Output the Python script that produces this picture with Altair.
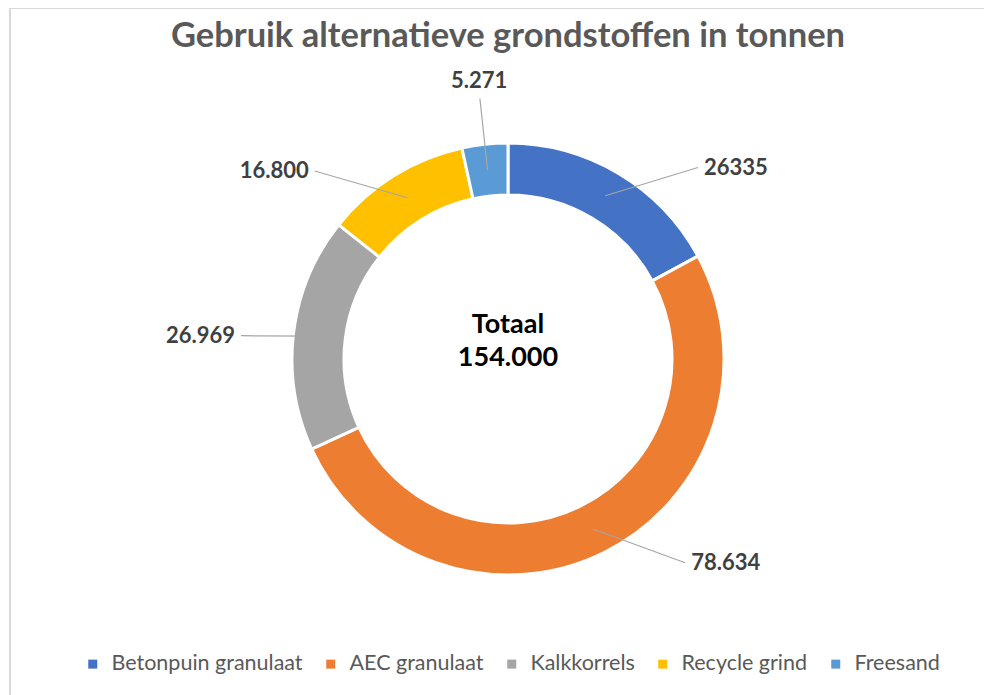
import altair as alt
import pandas as pd

NAMES = ["Betonpuin granulaat", "AEC granulaat", "Kalkkorrels", "Recycle grind", "Freesand"]
VALUES = [26335, 78634, 26969, 16800, 5271]
LABELS = ["26335", "78.634", "26.969", "16.800", "5.271"]
COLORS = ["#4472C4", "#ED7D31", "#A5A5A5", "#FFC000", "#5B9BD5"]
CENTER_TEXT = ["Totaal", "154.000"]
TITLE = "Gebruik alternatieve grondstoffen in tonnen"

df = pd.DataFrame({"name": NAMES, "value": VALUES, "label": LABELS, "order": list(range(len(NAMES)))})

XS = alt.Scale(domain=[-300, 300])
YS = alt.Scale(domain=[-300, 300])

base = alt.Chart(df)

arcs = base.mark_arc(innerRadius=164, outerRadius=216, stroke="white", strokeWidth=3).encode(
    theta=alt.Theta("value:Q", stack=True),
    color=alt.Color(
        "name:N",
        scale=alt.Scale(domain=NAMES, range=COLORS),
        sort=NAMES,
        legend=alt.Legend(
            title=None, orient="none", direction="horizontal",
            legendX=-126, legendY=594,
            symbolType="square", symbolSize=81, symbolStrokeWidth=0,
            labelFontSize=21.5, labelColor="#595959", labelFont="Lato",
            labelOffset=8, columnPadding=17, labelLimit=400,
        ),
    ),
    order=alt.Order("order:Q"),
)

# label placement: labels pushed sideways (like the spreadsheet's outside-end layout)
geo = base.transform_window(
    cum="sum(value)", sort=[alt.SortField("order")], frame=[None, 0]
).transform_joinaggregate(
    total="sum(value)"
).transform_calculate(
    mid="(datum.cum - datum.value / 2) / datum.total * 2 * PI"
).transform_calculate(
    s="sin(datum.mid)", c="cos(datum.mid)"
).transform_calculate(
    side="abs(datum.s) < 0.25 ? 'top' : (datum.s > 0 ? 'right' : 'left')"
).transform_calculate(
    ps="datum.side == 'top' ? datum.s : (datum.s < 0 ? -1 : 1) * sqrt(abs(datum.s))",
    pc="datum.side == 'top' ? datum.c : (datum.c < 0 ? -1 : 1) * sqrt(1 - abs(datum.s))",
).transform_calculate(
    tx="(datum.side == 'top' ? 268 : 274) * datum.ps",
    ty="(datum.side == 'top' ? 268 : 274) * datum.pc",
    lx1="190 * datum.s", ly1="190 * datum.c",
).transform_calculate(
    lx2="datum.side == 'top' ? 262 * datum.ps : datum.tx - (datum.ps > 0 ? 1 : -1) * 6",
    ly2="datum.side == 'top' ? 262 * datum.pc : datum.ty",
)

leaders = geo.mark_rule(color="#A6A6A6", strokeWidth=1.2).encode(
    x=alt.X("lx1:Q", scale=XS, axis=None),
    y=alt.Y("ly1:Q", scale=YS, axis=None),
    x2="lx2:Q",
    y2="ly2:Q",
)

def label_layer(side, align, baseline):
    return geo.transform_filter(alt.datum.side == side).mark_text(
        align=align, baseline=baseline, fontSize=22, fontWeight="bold",
        color="#404040", font="Lato",
    ).encode(
        x=alt.X("tx:Q", scale=XS, axis=None),
        y=alt.Y("ty:Q", scale=YS, axis=None),
        text="label:N",
    )

lab_r = label_layer("right", "left", "middle")
lab_l = label_layer("left", "right", "middle")
lab_t = label_layer("top", "center", "bottom")

one = alt.Data(values=[{}])

center = alt.Chart(one).mark_text(
    fontSize=27, fontWeight="bold", color="#000000", font="Lato",
    lineHeight=33, baseline="middle", dy=-34,
).encode(
    x=alt.X(datum=0, scale=XS, axis=None),
    y=alt.Y(datum=0, scale=YS, axis=None),
    text=alt.value(CENTER_TEXT),
)

title = alt.Chart(one).mark_text(
    fontSize=34.5, fontWeight="bold", color="#595959", font="Lato",
    baseline="alphabetic", align="center",
).encode(
    x=alt.X(datum=0, scale=XS, axis=None),
    y=alt.value(-12),
    text=alt.value(TITLE),
)

frame_top = alt.Chart(one).mark_rule(color="#D9D9D9", strokeWidth=2).encode(
    x=alt.value(-198), x2=alt.value(790), y=alt.value(-51)
)
frame_left = alt.Chart(one).mark_rule(color="#D9D9D9", strokeWidth=2).encode(
    x=alt.value(-198), y=alt.value(-51), y2=alt.value(640)
)

chart = alt.layer(
    frame_top, frame_left, arcs, leaders, lab_r, lab_l, lab_t, center, title
).properties(
    width=600, height=600,
    padding={"left": 200, "top": 51, "right": 176, "bottom": 36},
    autosize=alt.AutoSizeParams(type="none"),
).configure(font="Lato").configure_view(strokeWidth=0)

chart.save("out.html", embed_options={"renderer": "svg", "actions": False})
